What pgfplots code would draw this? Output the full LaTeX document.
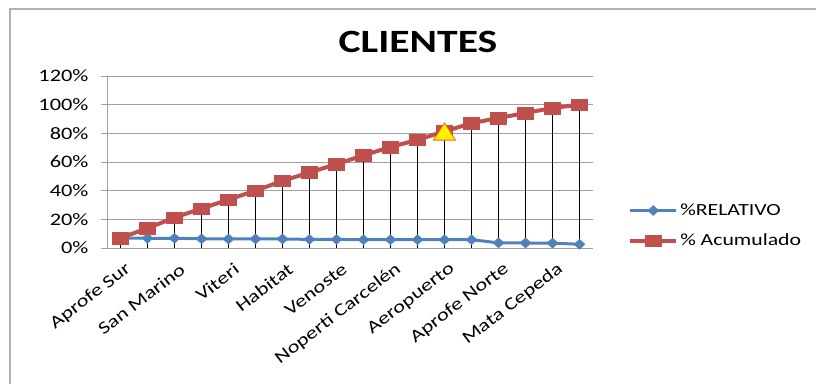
\documentclass[border=0pt]{standalone}
\usepackage{fontspec}
\setmainfont{Carlito}[FakeStretch=1.28]
\usepackage{pgfplots}
\pgfplotsset{compat=1.18}
\definecolor{xlblue}{RGB}{79,129,189}
\definecolor{xlred}{RGB}{192,80,77}
\definecolor{gridgray}{RGB}{160,160,160}
\begin{document}
\begin{tikzpicture}[x=1bp,y=1bp]
\useasboundingbox (0,0) rectangle (816,384);
\draw[gray!60, line width=1.2bp] (10,0) -- (10,375) -- (816,375);
\node[font=\fontsize{32.5bp}{38bp}\selectfont\bfseries, anchor=base] at (418,332) {CLIENTES};
\begin{axis}[
  at={(107bp,136bp)}, anchor=south west,
  scale only axis, width=486bp, height=172bp,
  xmin=-0.5, xmax=17.5, ymin=0, ymax=120,
  clip=false,
  axis lines*=left,
  axis line style={gridgray, line width=0.8bp},
  ytick={0,20,...,120},
  yticklabels={0\%,20\%,40\%,60\%,80\%,100\%,120\%},
  /pgf/number format/assume math mode=true,
  ymajorgrids, grid style={gridgray, line width=0.8bp},
  ytick style={gridgray, line width=0.8bp},
  tick align=outside, major tick length=6bp,
  xtick={0,2,...,16},
  xticklabels={Aprofe Sur,San Marino,Viteri,Habitat,Venoste,Noperti Carcelén,Aeropuerto,Aprofe Norte,Mata Cepeda},
  x tick style={draw=none},
  tick label style={font=\fontsize{17.5bp}{21bp}\selectfont},
  yticklabel style={xshift=-9bp},
  xticklabel style={yshift=-11bp, xshift=11bp, rotate=37.6, anchor=east},
  legend style={at={(1.066,0.13)}, anchor=west, draw=none, fill=none,
     font=\fontsize{17bp}{20bp}\selectfont, row sep=13bp},
  legend cell align=left,
  legend image code/.code={\draw[mark repeat=2,mark phase=2,#1] plot coordinates {(0bp,0bp) (23bp,0bp) (46bp,0bp)};},
]
\addplot[ycomb, black, line width=0.8bp, forget plot] coordinates {
(0,7.0) (1,13.8) (2,21.2) (3,27.5) (4,33.8) (5,40.0) (6,46.8) (7,52.7) (8,58.5)
(9,64.7) (10,70.4) (11,75.5) (12,81.3) (13,87.1) (14,90.7) (15,94.2) (16,97.7) (17,100)};
\addplot[xlblue, line width=3bp, mark=diamond*, mark size=5bp, mark options={xscale=1.45, line width=0.5bp, fill=xlblue}] coordinates {
(0,7.0) (1,6.8) (2,6.8) (3,6.4) (4,6.3) (5,6.3) (6,6.3) (7,6.0) (8,6.0)
(9,5.8) (10,5.8) (11,5.8) (12,5.8) (13,5.8) (14,3.6) (15,3.5) (16,3.4) (17,2.6)};
\addlegendentry{\%RELATIVO}
\addplot[xlred, line width=4bp, mark=square*, mark size=5.8bp, mark options={xscale=1.35, line width=0.5bp, fill=xlred}] coordinates {
(0,7.0) (1,13.8) (2,21.2) (3,27.5) (4,33.8) (5,40.0) (6,46.8) (7,52.7) (8,58.5)
(9,64.7) (10,70.4) (11,75.5) (12,81.3) (13,87.1) (14,90.7) (15,94.2) (16,97.7) (17,100)};
\addlegendentry{\% Acumulado}
\addplot[only marks, mark=triangle*, mark size=11.5bp, mark options={yshift=-2.9bp, xscale=1.1, fill=yellow, draw=orange!80!red, line width=0.8bp}, forget plot] coordinates {(12,81.3)};
\end{axis}
\end{tikzpicture}
\end{document}
